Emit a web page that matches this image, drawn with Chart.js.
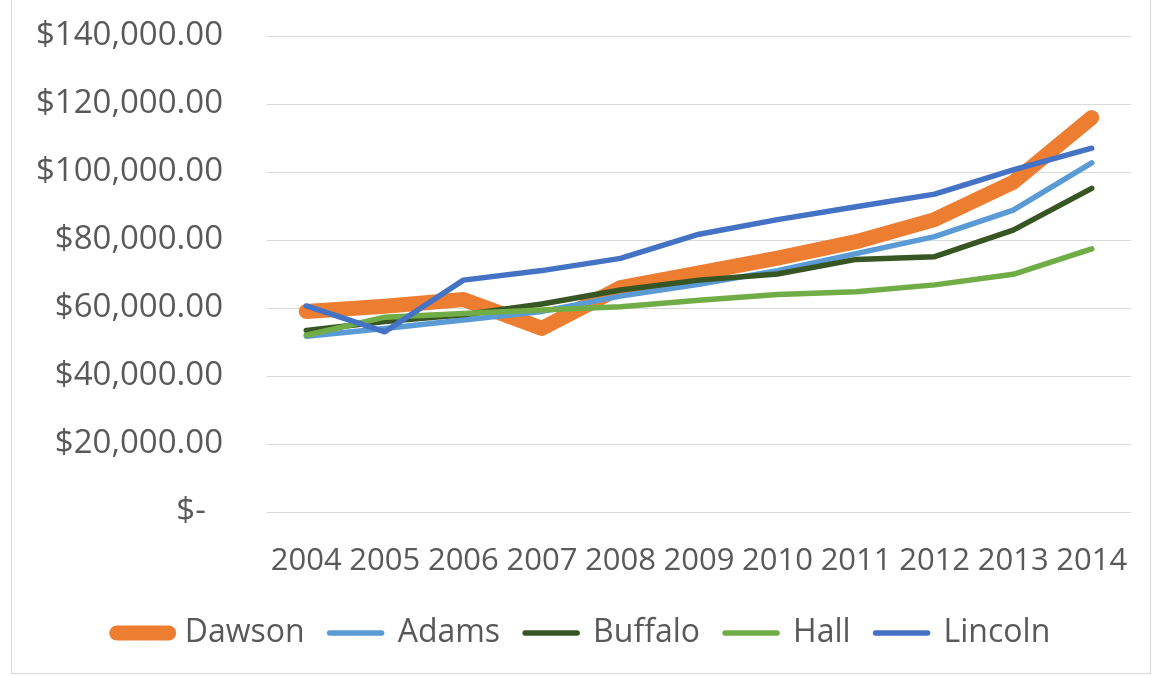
<!DOCTYPE html>
<html>
<head>
<meta charset="utf-8">
<script src="https://cdn.jsdelivr.net/npm/chart.js@4/dist/chart.umd.min.js"></script>
<style>
    html, body { margin: 0; padding: 0; background: #ffffff; }
    #wrap { position: relative; width: 1160px; height: 676px; }
    #frame { position: absolute; left: 11px; top: -2px; width: 1138px; height: 674px; border: 1px solid #d9d9d9; pointer-events: none; }
</style>
</head>
<body>
<div id="wrap">
    <canvas id="chart" width="1160" height="676"></canvas>
    <div id="frame"></div>
</div>
<script>
var years = ["2004", "2005", "2006", "2007", "2008", "2009", "2010", "2011", "2012", "2013", "2014"];
var dawson = [59000, 60500, 62500, 54000, 66000, 70300, 74700, 79500, 86000, 97000, 116000];
var adams = [51700, 54000, 56500, 59000, 63500, 67000, 71000, 76000, 81000, 88800, 102700];
var buffalo = [53400, 56000, 58000, 61200, 65300, 68200, 70000, 74300, 75100, 82900, 95200];
var hall = [52000, 57300, 58400, 59400, 60400, 62300, 64000, 64800, 66800, 69900, 77400];
var lincoln = [60600, 53000, 68200, 71000, 74600, 81700, 86000, 89800, 93500, 100600, 107000];

var textColor = "#595959";
var fontName = "'Open Sans', 'Noto Sans', sans-serif";

function makeLine(label, data, color, width, order) {
    return {
        label: label,
        data: data,
        borderColor: color,
        backgroundColor: color,
        borderWidth: width,
        borderCapStyle: "round",
        borderJoinStyle: "round",
        pointRadius: 0,
        tension: 0,
        order: order
    };
}

function money(value) {
    if (value === 0) {
        return "$-  ";
    }
    return "$" + value.toLocaleString("en-US", { minimumFractionDigits: 2, maximumFractionDigits: 2 });
}

var ctx = document.getElementById("chart");
var chart = new Chart(ctx, {
    type: "line",
    data: {
        labels: years,
        datasets: [
            makeLine("Dawson", dawson, "#ED7D31", 15, 5),
            makeLine("Adams", adams, "#5B9BD5", 5.5, 4),
            makeLine("Buffalo", buffalo, "#375623", 5.5, 3),
            makeLine("Hall", hall, "#70AD47", 5.5, 2),
            makeLine("Lincoln", lincoln, "#4472C4", 5.5, 1)
        ]
    },
    options: {
        responsive: false,
        animation: false,
        layout: {
            padding: { top: 36, left: 36, right: 29, bottom: 17 }
        },
        plugins: {
            tooltip: { enabled: false },
            legend: {
                position: "bottom",
                labels: {
                    usePointStyle: true,
                    pointStyleWidth: 52,
                    padding: 25,
                    color: textColor,
                    font: { family: fontName, size: 32 },
                    generateLabels: function (c) {
                        return c.data.datasets.map(function (ds, i) {
                            return {
                                text: ds.label,
                                fillStyle: ds.borderColor,
                                strokeStyle: ds.borderColor,
                                lineWidth: ds.borderWidth,
                                lineCap: "round",
                                pointStyle: "line",
                                fontColor: textColor,
                                datasetIndex: i
                            };
                        });
                    }
                }
            }
        },
        scales: {
            x: {
                offset: true,
                grid: { display: false },
                border: { display: false },
                ticks: {
                    color: textColor,
                    padding: 23,
                    maxRotation: 0,
                    autoSkip: false,
                    font: { family: fontName, size: 31 }
                },
                afterFit: function (scale) {
                    scale.height = 80;
                }
            },
            y: {
                min: 0,
                max: 140000,
                grid: { color: "#d9d9d9", lineWidth: 1, drawTicks: false },
                border: { display: false },
                ticks: {
                    stepSize: 20000,
                    color: textColor,
                    padding: 44,
                    font: { family: fontName, size: 33 },
                    callback: function (value) {
                        return money(value);
                    }
                },
                afterFit: function (scale) {
                    scale.width = 231;
                    scale.paddingTop = 0;
                    scale.paddingBottom = 0;
                }
            }
        }
    }
});
</script>
</body>
</html>
